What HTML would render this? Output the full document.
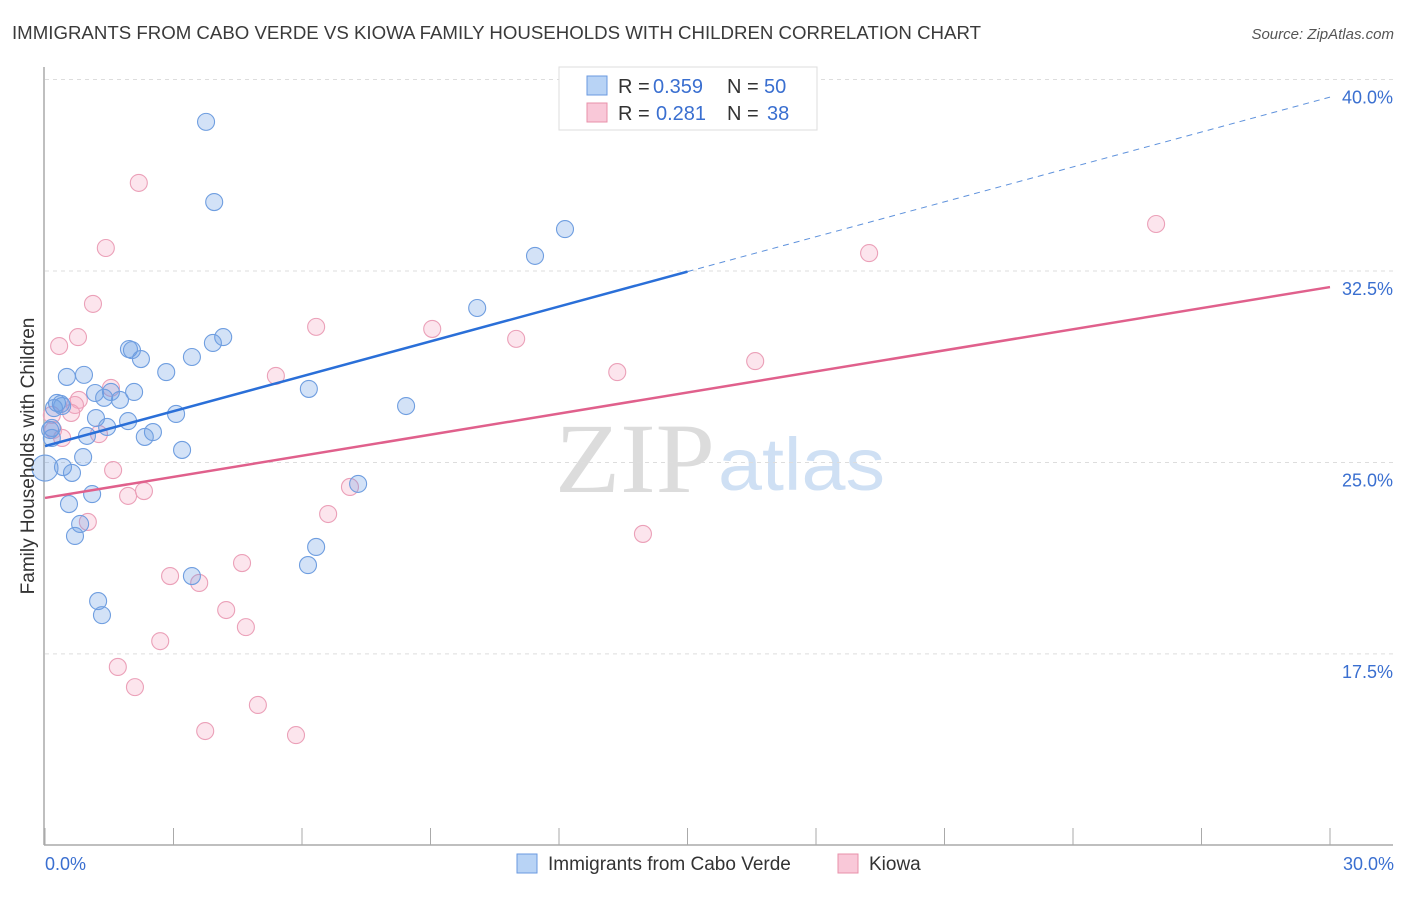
<!DOCTYPE html>
<html><head><meta charset="utf-8"><style>
body{margin:0;background:#fff;font-family:"Liberation Sans",sans-serif}
</style></head><body>
<svg id="chart" width="1406" height="892" xmlns="http://www.w3.org/2000/svg">
<text x="12" y="39" font-size="18" fill="#3a3a3a" textLength="969" lengthAdjust="spacingAndGlyphs">IMMIGRANTS FROM CABO VERDE VS KIOWA FAMILY HOUSEHOLDS WITH CHILDREN CORRELATION CHART</text>
<text x="1394" y="39" font-size="15" fill="#555" font-style="italic" text-anchor="end">Source: ZipAtlas.com</text>
<text x="555" y="492" font-size="100" fill="#dcdcdc" font-family="Liberation Serif,serif" textLength="160" lengthAdjust="spacingAndGlyphs">ZIP</text>
<text x="718" y="490" font-size="74" fill="#cfe0f4" textLength="167" lengthAdjust="spacingAndGlyphs">atlas</text>
<g id="grid"></g><g id="axes"></g><g id="marks"></g>
<text transform="translate(34,456) rotate(-90)" font-size="19" fill="#333" text-anchor="middle">Family Households with Children</text>
<text x="45" y="870" font-size="18" fill="#3a6fd0">0.0%</text>
<text x="1394" y="870" font-size="18" fill="#3a6fd0" text-anchor="end">30.0%</text>
<g>
<rect x="559" y="67" width="258" height="63" fill="#fff" stroke="#ddd"/>
<rect x="587" y="76" width="20" height="19" fill="#b8d3f5" stroke="#6a9ae0"/>
<rect x="587" y="103" width="20" height="19" fill="#f9c8d8" stroke="#e890aa"/>
<text x="618" y="93" font-size="20" fill="#333">R = <tspan x="653" fill="#3a6fd0">0.359</tspan><tspan x="727">N = </tspan><tspan x="764" fill="#3a6fd0">50</tspan></text>
<text x="618" y="120" font-size="20" fill="#333">R = <tspan x="656" fill="#3a6fd0">0.281</tspan><tspan x="727">N = </tspan><tspan x="767" fill="#3a6fd0">38</tspan></text>
</g>
<g>
<rect x="517" y="854" width="20" height="19" fill="#b8d3f5" stroke="#6a9ae0"/>
<text x="548" y="870" font-size="19" fill="#333">Immigrants from Cabo Verde</text>
<rect x="838" y="854" width="20" height="19" fill="#f9c8d8" stroke="#e890aa"/>
<text x="869" y="870" font-size="19" fill="#333">Kiowa</text>
</g>
</svg>
<script>
const yTicks=[40,32.5,25,17.5];
const yTickLabels=["40.0%","32.5%","25.0%","17.5%"];
const xTicks=[0,3,6,9,12,15,18,21,24,27,30];
const blueX=[3.76,3.95,12.14,11.44,10.09,4.16,3.92,1.96,2.03,2.24,3.43,2.83,0.91,0.51,1.17,1.54,2.08,1.38,1.75,0.28,0.37,0.40,0.21,3.06,1.19,1.94,1.45,2.52,2.33,0.98,0.12,0.16,3.20,0.89,6.16,8.43,0.42,0.63,0.00,1.10,0.56,0.82,0.70,7.31,6.33,6.14,3.43,1.24,1.33,0.16];
const blueY=[38.34,35.20,34.14,33.09,31.05,29.91,29.68,29.44,29.40,29.05,29.13,28.54,28.43,28.35,27.72,27.76,27.76,27.53,27.45,27.33,27.29,27.21,27.13,26.90,26.74,26.62,26.39,26.19,26.00,26.04,26.27,25.96,25.49,25.21,27.88,27.21,24.82,24.59,24.78,23.76,23.37,22.59,22.12,24.16,21.69,20.98,20.55,19.57,19.02,26.35];
const pinkX=[2.19,1.42,1.12,0.33,0.77,6.33,9.04,11.00,13.36,16.58,19.24,25.94,5.39,1.54,0.79,0.70,0.16,0.61,0.19,1.26,0.40,1.59,1.94,2.31,7.12,1.00,6.61,13.96,2.92,3.60,4.60,4.23,4.69,2.69,1.70,2.10,4.97,3.74,5.86];
const pinkY=[35.95,33.40,31.21,29.56,29.91,30.31,30.23,29.84,28.54,28.97,33.20,34.34,28.39,27.92,27.45,27.25,26.86,26.94,26.27,26.11,25.96,24.70,23.69,23.88,24.04,22.67,22.98,22.20,20.55,20.28,21.06,19.22,18.55,18.00,16.99,16.20,15.50,14.48,14.32];
const blueTrend=[25.64,39.31];
const pinkTrend=[23.61,31.87];
const NS="http://www.w3.org/2000/svg";
const X=v=>45+v/30*1285, Y=v=>79.5+(40-v)*25.53;
function mk(t,a,p){const e=document.createElementNS(NS,t);for(const k in a)e.setAttribute(k,a[k]);p.appendChild(e);return e;}
const grid=document.getElementById('grid'),axes=document.getElementById('axes'),marks=document.getElementById('marks');
yTicks.forEach((v,i)=>{
 const l=mk('line',{x1:45,x2:1393,y1:Y(v),y2:Y(v),stroke:'#ddd','stroke-dasharray':'4,4'},grid);
 
 
 const t=mk('text',{x:1393,y:Y(v)+24,'font-size':18,fill:'#3a6fd0','text-anchor':'end'},grid);
 t.textContent=yTickLabels[i];
 
 
});
const ya=mk('line',{x1:44,x2:44,y1:67,y2:845,stroke:'#aaa','stroke-width':1.5},axes);


const xa=mk('line',{x1:44,x2:1393,y1:845,y2:845,stroke:'#aaa','stroke-width':1.5},axes);


xTicks.forEach(v=>{const t=mk('line',{x1:X(v),x2:X(v),y1:828,y2:845,stroke:'#aaa'},axes);
 
 });
function pts(xs,ys,fill,stroke,name){xs.forEach((x,i)=>{const c=mk('circle',{cx:X(x),cy:Y(ys[i]),r:(name==='blue-point'&&x===0)?13:8.5,fill:fill,stroke:stroke,'stroke-width':1.1},marks);
 
 });}
pts(pinkX,pinkY,'rgba(244,170,196,0.3)','#eba0b8','pink-point');
pts(blueX,blueY,'rgba(110,160,230,0.3)','#6f9ee0','blue-point');
const b1=mk('line',{x1:X(0),y1:Y(blueTrend[0]),x2:X(15),y2:Y(blueTrend[0]+(blueTrend[1]-blueTrend[0])/2),stroke:'#2a6fd8','stroke-width':2.5},marks);


const b2=mk('line',{x1:X(15),y1:Y(blueTrend[0]+(blueTrend[1]-blueTrend[0])/2),x2:X(30),y2:Y(blueTrend[1]),stroke:'#5f92dc','stroke-width':1,'stroke-dasharray':'6,5'},marks);


const p1=mk('line',{x1:X(0),y1:Y(pinkTrend[0]),x2:X(30),y2:Y(pinkTrend[1]),stroke:'#e0608c','stroke-width':2.5},marks);


</script>
</body></html>
